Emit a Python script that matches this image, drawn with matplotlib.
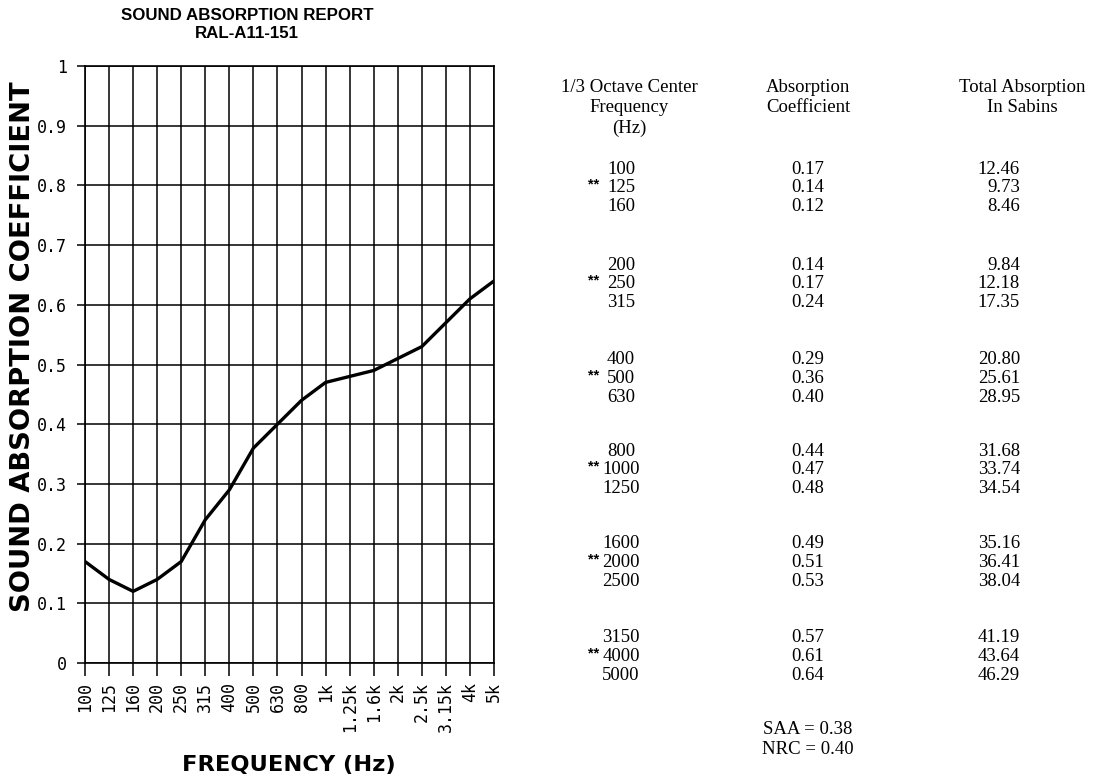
import matplotlib
matplotlib.use("Agg")
import matplotlib.pyplot as plt

# 1/3 octave band data
freq_labels = ["100", "125", "160", "200", "250", "315", "400", "500", "630",
               "800", "1k", "1.25k", "1.6k", "2k", "2.5k", "3.15k", "4k", "5k"]
freq_hz = ["100", "125", "160", "200", "250", "315", "400", "500", "630",
           "800", "1000", "1250", "1600", "2000", "2500", "3150", "4000", "5000"]
coefficients = [0.17, 0.14, 0.12, 0.14, 0.17, 0.24, 0.29, 0.36, 0.40,
                0.44, 0.47, 0.48, 0.49, 0.51, 0.53, 0.57, 0.61, 0.64]
sabins = ["12.46", "9.73", "8.46", "9.84", "12.18", "17.35", "20.80", "25.61",
          "28.95", "31.68", "33.74", "34.54", "35.16", "36.41", "38.04",
          "41.19", "43.64", "46.29"]
octave_bands = ["125", "250", "500", "1000", "2000", "4000"]
saa = 0.38
nrc = 0.40

W, H = 1100, 783
fig = plt.figure(figsize=(W / 100, H / 100), dpi=100)
fig.patch.set_facecolor("white")

ax = fig.add_axes([85 / W, 1 - 663 / H, (494 - 85) / W, (663 - 66) / H])
x = list(range(len(coefficients)))
ax.plot(x, coefficients, color="black", lw=2.4, solid_capstyle="round",
        solid_joinstyle="round", zorder=3)
ax.set_xlim(0, len(x) - 1)
ax.set_ylim(0, 1)
ax.set_xticks(x)
ax.set_xticklabels(freq_labels, rotation=90, family="DejaVu Sans Mono",
                   fontsize=12)
yt = [i / 10 for i in range(11)]
ax.set_yticks(yt)
ax.set_yticklabels(["0", "0.1", "0.2", "0.3", "0.4", "0.5", "0.6", "0.7",
                    "0.8", "0.9", "1"], family="DejaVu Sans Mono", fontsize=12)
ax.grid(True, color="black", lw=1.1)
for s in ax.spines.values():
    s.set_linewidth(1.2)
ax.tick_params(axis="x", direction="out", length=9, width=1.1,
               color="black", pad=5)
ax.tick_params(axis="y", direction="out", length=6, width=1.1,
               color="black", pad=7)

fig.text(23 / W, 1 - 347 / H, "SOUND ABSORPTION COEFFICIENT", rotation=90,
         ha="center", va="center", fontsize=19.7, fontweight="bold",
         family="DejaVu Sans")
fig.text(289 / W, 1 - 765 / H, "FREQUENCY (Hz)", ha="center", va="center",
         fontsize=16.2, fontweight="bold", family="DejaVu Sans")

fig.text(247 / W, 1 - 16 / H, "SOUND ABSORPTION REPORT", ha="center",
         va="center", fontsize=12.2, fontweight="bold",
         family="Liberation Sans")
fig.text(247 / W, 1 - 33 / H, "RAL-A11-151", ha="center", va="center",
         fontsize=12.2, fontweight="bold", family="Liberation Sans")

# Table to the right of the chart
serif = "Liberation Serif"
fs = 13.5
hdr_y = [88, 108, 128]
col1, col2, col3 = 629, 808, 1022
fig.text(col1 / W, 1 - hdr_y[0] / H, "1/3 Octave Center", ha="center",
         va="center", fontsize=fs, family=serif)
fig.text(col1 / W, 1 - hdr_y[1] / H, "Frequency", ha="center", va="center",
         fontsize=fs, family=serif)
fig.text(col1 / W, 1 - hdr_y[2] / H, "(Hz)", ha="center", va="center",
         fontsize=fs, family=serif)
fig.text(col2 / W, 1 - hdr_y[0] / H, "Absorption", ha="center", va="center",
         fontsize=fs, family=serif)
fig.text(col2 / W, 1 - hdr_y[1] / H, "Coefficient", ha="center", va="center",
         fontsize=fs, family=serif)
fig.text(col3 / W, 1 - hdr_y[0] / H, "Total Absorption", ha="center",
         va="center", fontsize=fs, family=serif)
fig.text(col3 / W, 1 - hdr_y[1] / H, "In Sabins", ha="center", va="center",
         fontsize=fs, family=serif)

group_start = [169, 265, 360, 451, 544, 638]
for i, f in enumerate(freq_hz):
    g, r = divmod(i, 3)
    yy = 1 - (group_start[g] + r * 18.7) / H
    fig.text(621 / W, yy, f, ha="center", va="center", fontsize=fs,
             family=serif)
    if f in octave_bands:
        fig.text(599 / W, yy + 3 / H, "**", ha="right", va="center",
                 fontsize=fs - 3, fontweight="bold", family="Liberation Sans")
    fig.text(col2 / W, yy, f"{coefficients[i]:.2f}", ha="center",
             va="center", fontsize=fs, family=serif)
    fig.text(1020 / W, yy, sabins[i], ha="right", va="center", fontsize=fs,
             family=serif)

fig.text(col2 / W, 1 - 729 / H, f"SAA = {saa:.2f}", ha="center",
         va="center", fontsize=fs, family=serif)
fig.text(col2 / W, 1 - 749 / H, f"NRC = {nrc:.2f}", ha="center",
         va="center", fontsize=fs, family=serif)

fig.savefig("out.png", dpi=100, facecolor="white")
